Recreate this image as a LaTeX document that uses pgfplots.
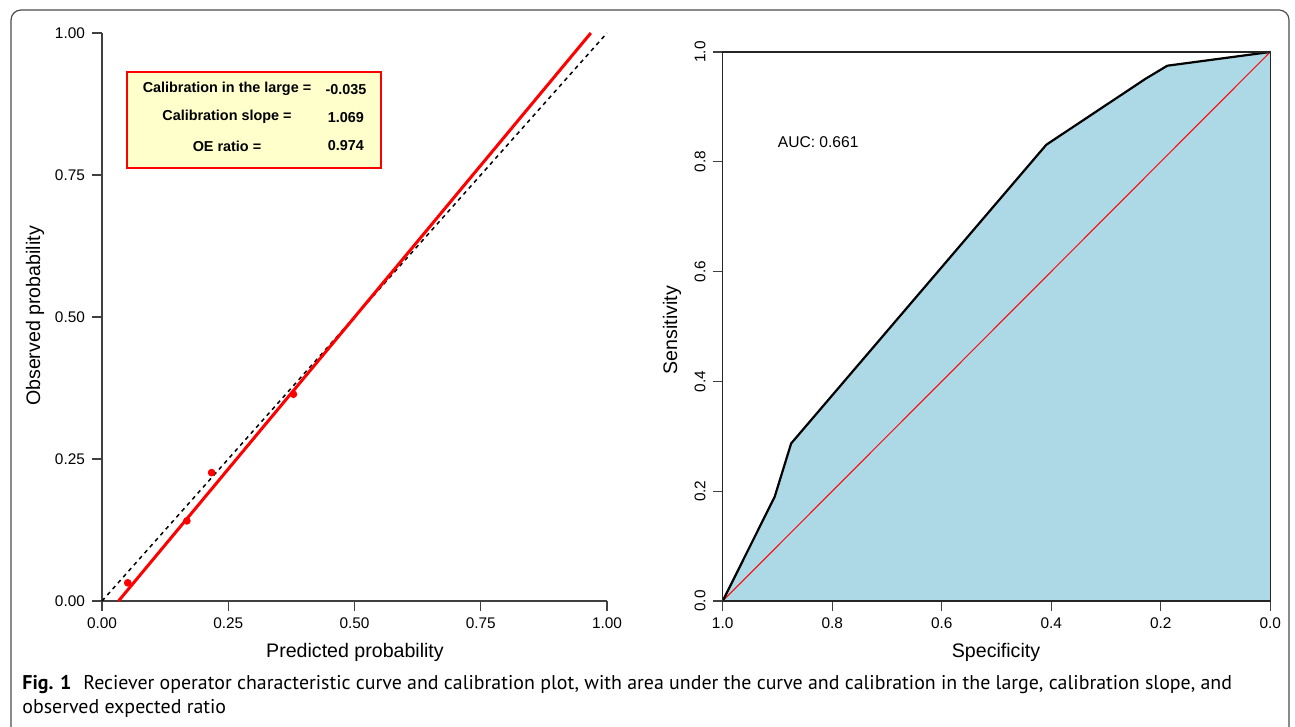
\documentclass[border=0pt]{standalone}
\usepackage{pgfplots}
\pgfplotsset{compat=1.18}
\usepackage{fontspec}
\setmainfont{Liberation Sans}
\newfontfamily\capfont{PT Sans}
\definecolor{rocblue}{HTML}{ADD8E6}
\definecolor{boxyellow}{HTML}{FFFFCC}
\begin{document}
\begin{tikzpicture}
\useasboundingbox (0,0) rectangle (647.5pt,363.5pt);
\draw[black!70, line width=0.6pt, rounded corners=5pt] (5.5pt,-10pt) -- (5.5pt,358.5pt) -- (644.5pt,358.5pt) -- (644.5pt,-10pt);

% ---------------- Calibration plot ----------------
\begin{axis}[
  at={(51pt,63pt)}, anchor=south west,
  scale only axis, width=252.5pt, height=284pt,
  xmin=0, xmax=1, ymin=0, ymax=1,
  axis x line=bottom, axis y line=left,
  axis line style={-, black!75, line width=0.6pt},
  tick align=outside, major tick length=5pt,
  tick style={black!75, line width=0.6pt},
  xtick={0,0.25,0.5,0.75,1}, xticklabels={0.00,0.25,0.50,0.75,1.00},
  ytick={0,0.25,0.5,0.75,1}, yticklabels={0.00,0.25,0.50,0.75,1.00},
  ticklabel style={font=\fontsize{7.7}{9}\selectfont},
  clip=false,
]
\addplot[black, line width=0.75pt, dash pattern=on 2pt off 2pt] coordinates {(0,0) (1,1)};
\addplot[red, line width=1.5pt] coordinates {(0.0327,0) (0.968,1)};
\addplot[only marks, mark=*, mark size=1.7pt, red, mark options={draw=red, fill=red}] coordinates {
  (0.051,0.032) (0.168,0.141) (0.217,0.226) (0.379,0.364)
};
\draw[red, line width=0.8pt, fill=boxyellow] (axis cs:0.0495,0.762) rectangle (axis cs:0.5525,0.931);
\node[font=\bfseries\fontsize{7.2}{9}\selectfont, inner sep=0] at (axis cs:0.2475,0.901) {Calibration in the large =};
\node[font=\bfseries\fontsize{7.2}{9}\selectfont, inner sep=0] at (axis cs:0.2475,0.852) {Calibration slope =};
\node[font=\bfseries\fontsize{7.2}{9}\selectfont, inner sep=0] at (axis cs:0.2475,0.801) {OE ratio =};
\node[font=\bfseries\fontsize{7.2}{9}\selectfont, inner sep=0] at (axis cs:0.483,0.901) {-0.035};
\node[font=\bfseries\fontsize{7.2}{9}\selectfont, inner sep=0] at (axis cs:0.483,0.852) {1.069};
\node[font=\bfseries\fontsize{7.2}{9}\selectfont, inner sep=0] at (axis cs:0.483,0.801) {0.974};
\end{axis}

% ---------------- ROC plot ----------------
\begin{axis}[
  at={(361.35pt,63pt)}, anchor=south west,
  scale only axis, width=273.75pt, height=274.5pt,
  xmin=0, xmax=1, ymin=0, ymax=1, x dir=reverse,
  axis on top,
  axis line style={black!85, line width=0.6pt},
  tick align=outside, major tick length=5pt, tick pos=left,
  tick style={black!75, line width=0.6pt},
  xtick={0,0.2,0.4,0.6,0.8,1}, xticklabels={0.0,0.2,0.4,0.6,0.8,1.0},
  ytick={0,0.2,0.4,0.6,0.8,1}, yticklabels={0.0,0.2,0.4,0.6,0.8,1.0},
  ticklabel style={font=\fontsize{7.7}{9}\selectfont},
  yticklabel style={rotate=90, anchor=south},
  clip=false,
]
\addplot[fill=rocblue, draw=none] coordinates {
  (1.0,0.0) (0.905,0.19) (0.875,0.287) (0.409,0.831) (0.228,0.951) (0.188,0.975) (0.0,1.0)
} \closedcycle;
\addplot[red, line width=0.5pt] coordinates {(1,0) (0,1)};
\addplot[black, line width=1.1pt, line join=round] coordinates {
  (1.0,0.0) (0.905,0.19) (0.875,0.287) (0.409,0.831) (0.228,0.951) (0.188,0.975) (0.0,1.0)
};
\node[anchor=west, inner sep=0, font=\fontsize{7.8}{9}\selectfont] at (axis cs:0.9,0.836) {AUC: 0.661};
\end{axis}

% axis titles
\node[font=\fontsize{9.8}{11}\selectfont] at (177.5pt,37.5pt) {Predicted probability};
\node[font=\fontsize{9.8}{11}\selectfont, rotate=90] at (17.5pt,205.5pt) {Observed probability};
\node[font=\fontsize{9.8}{11}\selectfont] at (498pt,37.5pt) {Specificity};
\node[font=\fontsize{9.8}{11}\selectfont, rotate=90] at (336pt,198.5pt) {Sensitivity};

% caption
\node[anchor=base west, inner sep=0, font=\capfont\fontsize{9.95}{11}\selectfont] at (11pt,18.5pt) {\textbf{Fig. 1}\hspace{0.6em}Reciever operator characteristic curve and calibration plot, with area under the curve and calibration in the large, calibration slope, and};
\node[anchor=base west, inner sep=0, font=\capfont\fontsize{9.95}{11}\selectfont] at (11pt,6.5pt) {observed expected ratio};
\end{tikzpicture}
\end{document}
